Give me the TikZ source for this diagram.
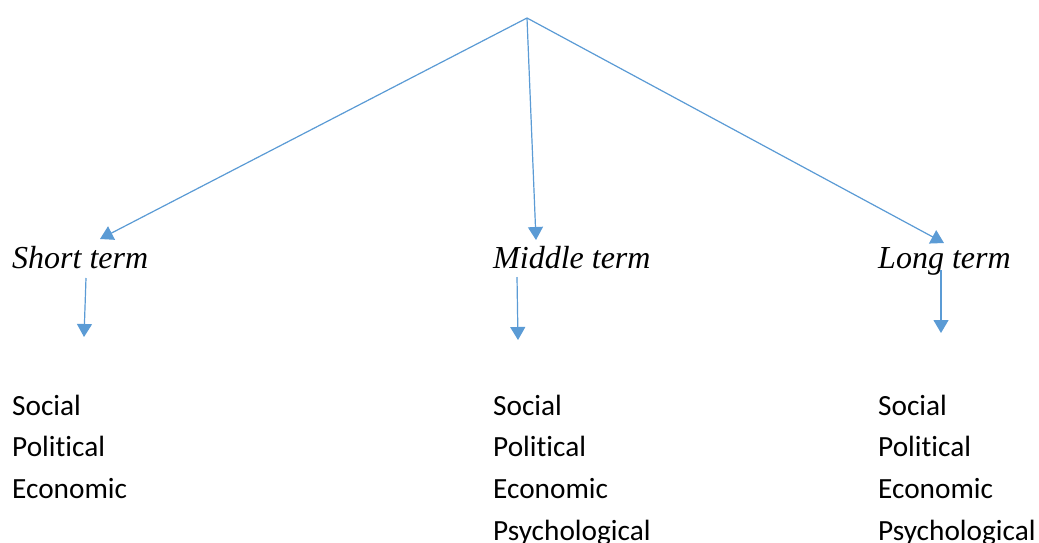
\documentclass[tikz,border=0pt]{standalone}
\usepackage{fontspec}
\setmainfont{Liberation Serif}
\newfontfamily\listfont[Ligatures={NoCommon}]{Carlito}
\usetikzlibrary{arrows.meta}
\definecolor{officeblue}{HTML}{5B9BD5}
\begin{document}
\begin{tikzpicture}[x=1pt,y=-1pt,
  conn/.style={draw=officeblue,line width=1.2pt,-{Triangle[width=15pt,length=13pt]},fill=officeblue},
  termlabel/.style={anchor=base west,inner sep=0pt,font=\fontsize{32}{38}\selectfont\itshape},
  item/.style={anchor=base west,inner sep=0pt,font=\listfont\fontsize{29.3}{35}\selectfont}]
\useasboundingbox (0,0) rectangle (1039,542);
% apex and arrow tips
\coordinate (apex) at (527,18);
\coordinate (tS) at (100,239);
\coordinate (tM) at (536,240);
\coordinate (tL) at (944,243);
% labels
\node[termlabel] (short) at (12,268) {Short term};
\node[termlabel] (middle) at (493,268) {Middle term};
\node[termlabel] (long) at (878,268) {Long term};
% sub-arrow coordinates
\coordinate (sS) at (86,278);
\coordinate (eS) at (84,337);
\coordinate (sM) at (517,277);
\coordinate (eM) at (518,340);
\coordinate (sL) at (941,270);
\coordinate (eL) at (941,333);
% main arrows
\draw[conn] (apex) -- (tS);
\draw[conn] (apex) -- (tM);
\draw[conn] (apex) -- (tL);
\draw[conn] (sS) -- (eS);
\draw[conn] (sM) -- (eM);
\draw[conn] (sL) -- (eL);
% lists
\node[item] (s1) at (12,415) {Social};
\node[item] (s2) at (12,456) {Political};
\node[item] (s3) at (12,498) {Economic};
\node[item] (m1) at (493,415) {Social};
\node[item] (m2) at (493,456) {Political};
\node[item] (m3) at (493,498) {Economic};
\node[item] (m4) at (493,540) {Psychological};
\node[item] (l1) at (878,415) {Social};
\node[item] (l2) at (878,456) {Political};
\node[item] (l3) at (878,498) {Economic};
\node[item] (l4) at (878,540) {Psychological};
\end{tikzpicture}
\end{document}
